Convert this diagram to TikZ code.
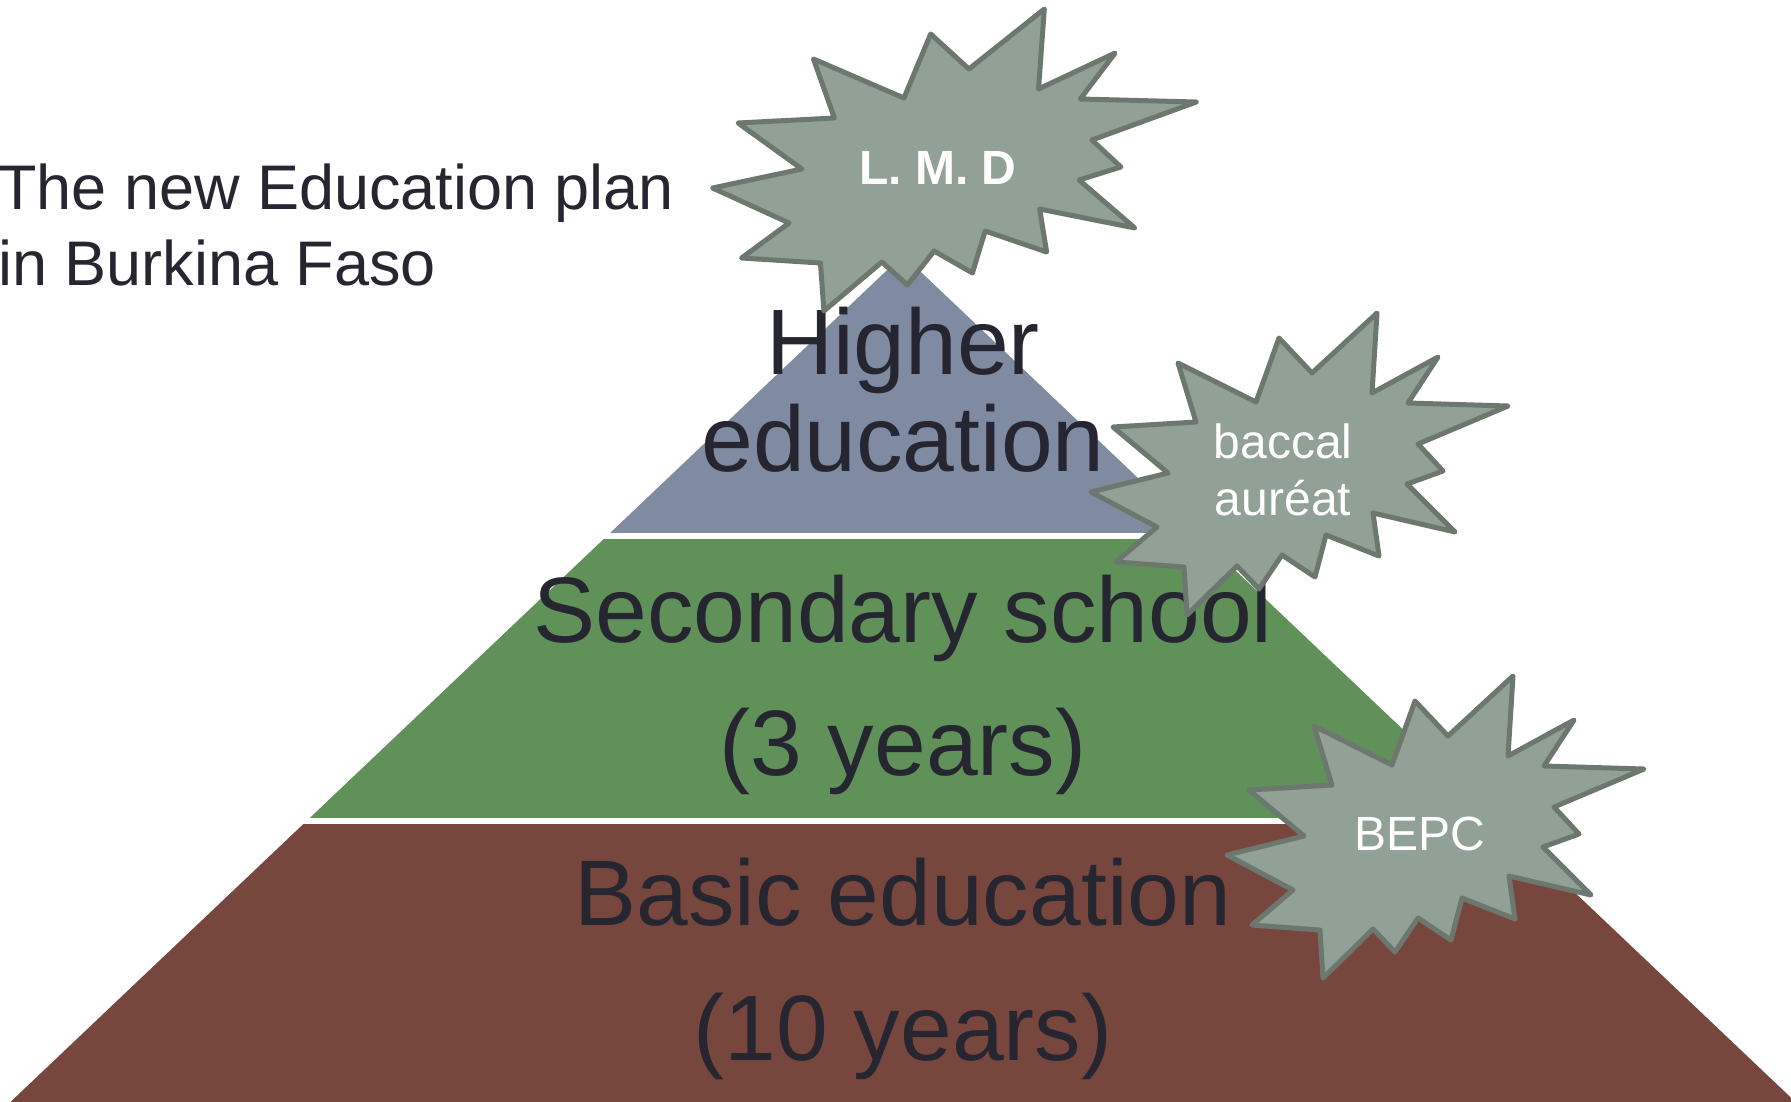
\documentclass[tikz,border=0pt]{standalone}
\usepackage{fontspec}
\setmainfont{Liberation Sans}
\definecolor{ink}{RGB}{38,38,48}
\definecolor{higher}{RGB}{127,139,160}
\definecolor{secondary}{RGB}{95,145,89}
\definecolor{basic}{RGB}{119,71,61}
\definecolor{blastfill}{RGB}{145,161,150}
\definecolor{blastline}{RGB}{108,120,110}

% explosion shape, #1 = centre, #2 = horizontal stretch
\newcommand{\blast}[2]{%
	\draw [blast, shift={(#1)}, xscale=#2] (-122,-101) -- (-44,-62) -- (-21,-126) -- (12,-91) -- (77,-151) -- (72,-71) -- (138,-107) -- (108,-61) -- (208,-58) -- (118,-20) -- (143,7) -- (107,20) -- (155,68) -- (73,49) -- (79,92) -- (26,71) -- (15,113) -- (-18,91) -- (-41,125) -- (-63,102) -- (-113,151) -- (-116,103) -- (-184,98) -- (-143,63) -- (-209,28) -- (-132,9) -- (-187,-37) -- (-104,-42) -- cycle;%
}

\begin{document}
\begin{tikzpicture}[x=1pt, y=-1pt,
	tier/.style={font=\fontsize{93}{93}\selectfont, text=ink, inner sep=0pt, anchor=base},
	title/.style={font=\fontsize{63}{76}\selectfont, text=ink, inner sep=0pt, anchor=base west},
	seal/.style={font=\fontsize{48}{56}\selectfont, text=white, inner sep=0pt, anchor=base},
	blast/.style={fill=blastfill, draw=blastline, line width=5pt, line join=round}]
	\useasboundingbox (0,0) rectangle (1791,1101);
	% pyramid
	\coordinate (apex) at (903,255);
	\coordinate (bl) at (2,1110);
	\coordinate (br) at (1804,1110);
	\begin{scope}
		\clip (apex) -- (bl) -- (br) -- cycle;
		\foreach \c/\t/\b in {higher/200/533, secondary/539/818, basic/824/1110}{
			\fill [\c] (0,\t) rectangle (1810,\b);
		}
	\end{scope}
	\node [title] (title1) at (-2,209) {The new Education plan};
	\node [title] (title2) at (-2,285) {in Burkina Faso};
	\node [tier] (higher1) at (903,374) {Higher};
	\node [tier] (higher2) at (903,471) {education};
	\node [tier] (second1) at (903,642) {Secondary school};
	\node [tier] (second2) at (903,775) {(3 years)};
	\node [tier] (basic1) at (903,925) {Basic education};
	\node [tier] (basic2) at (903,1060) {(10 years)};
	% diplomas
	\blast{955,160}{1.16}
	\blast{1300,464}{1}
	\blast{1436,827}{1}
	\node [seal, font=\fontsize{48}{56}\selectfont\bfseries] (lmd) at (938,184) {L. M. D};
	\node [seal] (bac1) at (1283,458) {baccal};
	\node [seal] (bac2) at (1283,515) {auréat};
	\node [seal] (bepc) at (1420,850) {BEPC};
\end{tikzpicture}
\end{document}
